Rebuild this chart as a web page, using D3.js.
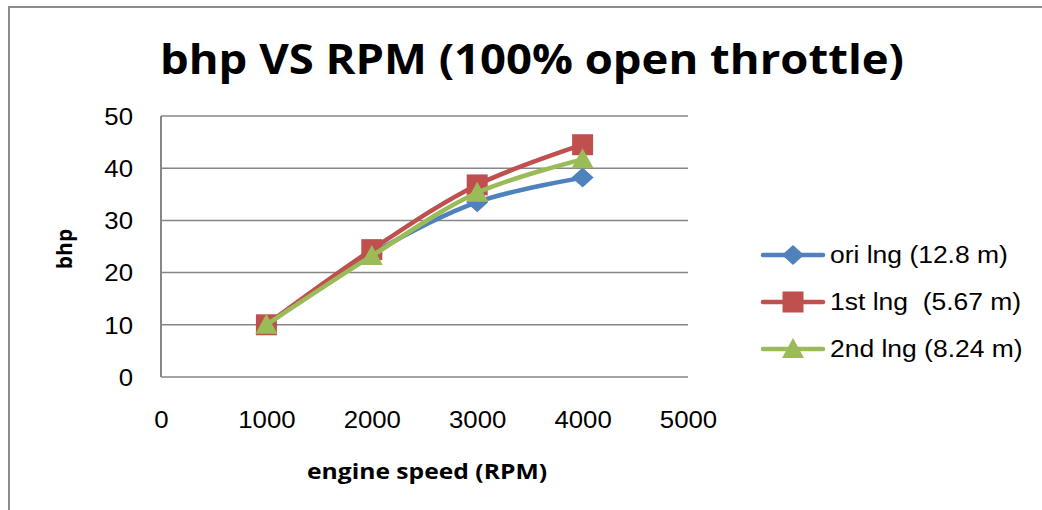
<!DOCTYPE html>
<html>
<head>
<meta charset="utf-8">
<script src="https://cdn.jsdelivr.net/npm/d3@7"></script>
<style>
  html, body { margin: 0; padding: 0; background: #fff; }
  text { font-family: "Liberation Sans", Arial, sans-serif; fill: #000; }
</style>
</head>
<body>
<div id="chart"></div>
<script>
const width = 1042;
const height = 510;

// data
const rpm = [1000, 2000, 3000, 4000];
const oriLng = [10, 23.6, 33.5, 38.2];
const firstLng = [10, 24.4, 36.8, 44.5];
const secondLng = [10, 23.2, 35.3, 41.7];
const seriesNames = ["ori lng (12.8 m)", "1st lng  (5.67 m)", "2nd lng (8.24 m)"];
const seriesColors = ["#4F81BD", "#C0504D", "#9BBB59"];
const seriesMarkers = ["diamond", "square", "triangle"];
const xTicks = [0, 1000, 2000, 3000, 4000, 5000];
const yTicks = [0, 10, 20, 30, 40, 50];

const series = [oriLng, firstLng, secondLng].map((vals, i) => ({
  name: seriesNames[i],
  color: seriesColors[i],
  marker: seriesMarkers[i],
  points: rpm.map((r, j) => ({x: r, y: vals[j]}))
}));

const svg = d3.select("#chart").append("svg")
  .attr("width", width)
  .attr("height", height);

// outer chart frame
svg.append("rect")
  .attr("x", 9).attr("y", 7)
  .attr("width", width + 20).attr("height", height + 20)
  .attr("fill", "none")
  .attr("stroke", "#8c8c8c")
  .attr("stroke-width", 2);

const x = d3.scaleLinear().domain([0, 5000]).range([161, 688]);
const y = d3.scaleLinear().domain([0, 50]).range([377, 116]);

// stretch text horizontally a bit, the original font is wider
function widen(sel, k) {
  sel.each(function() {
    const w = this.getComputedTextLength();
    d3.select(this).attr("textLength", w * k).attr("lengthAdjust", "spacingAndGlyphs");
  });
}

// gridlines
svg.append("g")
  .selectAll("line")
  .data(yTicks)
  .join("line")
  .attr("x1", x(0)).attr("x2", x(5000))
  .attr("y1", d => y(d)).attr("y2", d => y(d))
  .attr("stroke", "#868686")
  .attr("stroke-width", 1.5);

// left axis line
svg.append("line")
  .attr("x1", x(0)).attr("x2", x(0))
  .attr("y1", y(0)).attr("y2", y(50))
  .attr("stroke", "#868686")
  .attr("stroke-width", 2);

// y tick labels
const yAxis = svg.append("g")
  .attr("transform", `translate(${x(0)},0)`)
  .call(d3.axisLeft(y).tickValues(yTicks).tickSize(0).tickPadding(28));
yAxis.select(".domain").remove();
yAxis.selectAll("text")
  .style("font-size", "23px")
  .attr("dy", "0.36em")
  .call(widen, 1.12);

// x tick labels
const xAxis = svg.append("g")
  .attr("transform", `translate(0,${y(0)})`)
  .call(d3.axisBottom(x).tickValues(xTicks).tickFormat(d3.format("d")).tickSize(0).tickPadding(35));
xAxis.select(".domain").remove();
xAxis.selectAll("text")
  .style("font-size", "23px")
  .call(widen, 1.12);

// title
svg.append("text")
  .attr("x", 532).attr("y", 74)
  .attr("text-anchor", "middle")
  .attr("textLength", 744)
  .attr("lengthAdjust", "spacingAndGlyphs")
  .style("font-family", "'Open Sans', sans-serif")
  .style("font-weight", "bold")
  .style("font-size", "42px")
  .text("bhp VS RPM (100% open throttle)");

// axis titles
svg.append("text")
  .attr("x", 427).attr("y", 479)
  .attr("text-anchor", "middle")
  .attr("textLength", 240)
  .attr("lengthAdjust", "spacingAndGlyphs")
  .style("font-family", "'Open Sans', sans-serif")
  .style("font-weight", "bold")
  .style("font-size", "22px")
  .text("engine speed (RPM)");

svg.append("text")
  .attr("transform", "translate(72,249) rotate(-90)")
  .attr("text-anchor", "middle")
  .style("font-family", "'Open Sans', sans-serif")
  .style("font-weight", "bold")
  .style("font-size", "21px")
  .text("bhp");

const line = d3.line()
  .x(d => x(d.x))
  .y(d => y(d.y))
  .curve(d3.curveCatmullRom.alpha(0.5));

// marker outlines, centred on 0,0
const markerPaths = {
  diamond: "M0,-10L11,0L0,10L-11,0Z",
  square: "M-10.5,-10.5H10.5V10.5H-10.5Z",
  triangle: "M0,-11L11,9L-11,9Z"
};

function drawMarker(g, kind, color) {
  g.append("path")
    .attr("d", markerPaths[kind])
    .attr("fill", color);
}

const seriesG = svg.append("g")
  .selectAll("g")
  .data(series)
  .join("g");

seriesG.append("path")
  .attr("d", d => line(d.points))
  .attr("fill", "none")
  .attr("stroke", d => d.color)
  .attr("stroke-width", 4.5)
  .attr("stroke-linejoin", "round")
  .attr("stroke-linecap", "round");

seriesG.each(function(s) {
  const g = d3.select(this);
  s.points.forEach(p => {
    const m = g.append("g").attr("transform", `translate(${x(p.x)},${y(p.y)})`);
    drawMarker(m, s.marker, s.color);
  });
});

// legend
const legend = svg.append("g")
  .selectAll("g")
  .data(series)
  .join("g")
  .attr("transform", (d, i) => `translate(763,${255 + i * 47})`);

legend.append("line")
  .attr("x1", 0).attr("x2", 60)
  .attr("y1", 0).attr("y2", 0)
  .attr("stroke", d => d.color)
  .attr("stroke-width", 4.5)
  .attr("stroke-linecap", "round");

legend.each(function(s) {
  const m = d3.select(this).append("g").attr("transform", "translate(30,0)");
  drawMarker(m, s.marker, s.color);
});

legend.append("text")
  .attr("x", 67)
  .attr("y", 0)
  .attr("dy", "0.36em")
  .style("font-size", "23px")
  .attr("xml:space", "preserve")
  .text(d => d.name)
  .call(widen, 1.15);
</script>
</body>
</html>
